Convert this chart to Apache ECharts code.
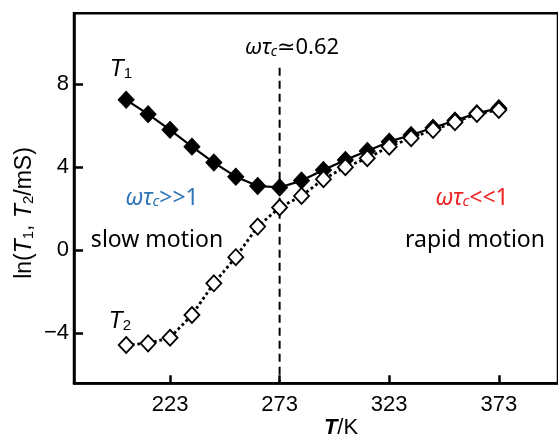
<!DOCTYPE html>
<html>
<head>
<meta charset="utf-8">
<script src="https://cdn.jsdelivr.net/npm/echarts@6/dist/echarts.min.js"></script>
<style>
html,body{margin:0;padding:0;background:#fff;}
#chart{width:558px;height:437px;}
</style>
</head>
<body>
<div id="chart"></div>
<script>
// Temperatures (K)
var temps = [203, 213, 223, 233, 243, 253, 263, 273, 283, 293, 303, 313, 323, 333, 343, 353, 363, 373];
// ln(T1/ms)
var t1Values = [7.25, 6.56, 5.80, 4.99, 4.22, 3.54, 3.09, 3.02, 3.35, 3.86, 4.35, 4.78, 5.23, 5.55, 5.90, 6.25, 6.60, 6.85];
// ln(T2/ms)
var t2Values = [-4.59, -4.51, -4.24, -3.14, -1.61, -0.35, 1.13, 2.05, 2.61, 3.42, 4.00, 4.43, 4.99, 5.40, 5.80, 6.17, 6.57, 6.76];
// tick labels
var xTicks = [223, 273, 323, 373];
var yTicks = [-4, 0, 4, 8];
// vertical marker at omega*tau_c ~ 0.62
var markerT = 273;
var markerRange = [8.8, -6.44];

function pairs(xs, ys) { return xs.map(function (x, i) { return [x, ys[i]]; }); }

var chart = echarts.init(document.getElementById('chart'), null, {renderer: 'canvas'});
var tickFont = 'Liberation Sans';
var textFont = 'Noto Sans, DejaVu Sans, sans-serif';

var option = {
  animation: false,
  backgroundColor: '#fff',
  grid: {
    left: 74, top: 13.3, right: -9.5, bottom: 53.7,
    show: true, borderColor: '#000', borderWidth: 2.5, backgroundColor: 'transparent'
  },
  xAxis: {
    type: 'value', min: 179.2, max: 400,
    axisLine: {show: true, onZero: false, lineStyle: {color: '#000', width: 2.5}},
    axisTick: {show: true, inside: true, length: 8, lineStyle: {color: '#000', width: 2.5}, customValues: xTicks},
    axisLabel: {show: true, customValues: xTicks, margin: 11, color: '#000', fontSize: 22, fontFamily: tickFont},
    splitLine: {show: false}
  },
  yAxis: {
    type: 'value', min: -6.44, max: 11.43,
    axisLine: {show: true, onZero: false, lineStyle: {color: '#000', width: 2.5}},
    axisTick: {show: true, inside: true, length: 9, lineStyle: {color: '#000', width: 2.5}, customValues: yTicks},
    axisLabel: {show: true, customValues: yTicks, margin: 5, color: '#000', fontSize: 22, fontFamily: tickFont,
      formatter: function (v) { return String(v).replace('-', '\u2212'); }},
    splitLine: {show: false}
  },
  series: [
    {
      type: 'line', name: 'marker', silent: true, z: 1,
      data: [[markerT, markerRange[0]], [markerT, markerRange[1]]],
      symbol: 'none',
      lineStyle: {color: '#000', width: 2, type: [8, 5]}
    },
    {
      type: 'line', name: 'T1', z: 2,
      data: pairs(temps, t1Values),
      symbol: 'diamond', symbolSize: [16, 17],
      itemStyle: {color: '#000', borderColor: '#000', borderWidth: 1},
      lineStyle: {color: '#000', width: 2.2}
    },
    {
      type: 'line', name: 'T2', z: 3,
      data: pairs(temps, t2Values),
      symbol: 'diamond', symbolSize: [15, 16],
      itemStyle: {color: '#fff', borderColor: '#000', borderWidth: 1.8},
      lineStyle: {color: '#000', width: 2.8, type: 'dotted'}
    }
  ],
  graphic: [
    {
      type: 'text', x: 25, y: 213, rotation: Math.PI / 2,
      style: {
        text: '{n|ln(}{i|T}{s|1}{n|, }{i|T}{s|2}{n|/mS)}',
        align: 'center', verticalAlign: 'middle', fill: '#000',
        rich: {
          n: {fontSize: 23, fontFamily: tickFont, fill: '#000'},
          i: {fontSize: 23, fontFamily: tickFont, fontStyle: 'italic', fill: '#000'},
          s: {fontSize: 15, fontFamily: tickFont, fill: '#000', verticalAlign: 'bottom'}
        }
      }
    },
    {
      type: 'text', x: 341, y: 428,
      style: {
        text: '{b|T}{n|/K}',
        align: 'center', verticalAlign: 'middle',
        rich: {
          b: {fontSize: 22, fontFamily: tickFont, fontStyle: 'italic', fontWeight: 'bold', fill: '#000'},
          n: {fontSize: 22, fontFamily: tickFont, fill: '#000'}
        }
      }
    },
    {
      type: 'text', x: 121, y: 70,
      style: {
        text: '{i|T}{s|1}',
        align: 'center', verticalAlign: 'middle',
        rich: {
          i: {fontSize: 23, fontFamily: tickFont, fontStyle: 'italic', fill: '#000'},
          s: {fontSize: 15, fontFamily: tickFont, fill: '#000', verticalAlign: 'bottom'}
        }
      }
    },
    {
      type: 'text', x: 120, y: 322,
      style: {
        text: '{i|T}{s|2}',
        align: 'center', verticalAlign: 'middle',
        rich: {
          i: {fontSize: 23, fontFamily: tickFont, fontStyle: 'italic', fill: '#000'},
          s: {fontSize: 15, fontFamily: tickFont, fill: '#000', verticalAlign: 'bottom'}
        }
      }
    },
    {
      type: 'text', x: 292, y: 48,
      style: {
        text: '{i|\u03c9\u03c4}{s|c}{n|\u22430.62}',
        align: 'center', verticalAlign: 'middle',
        rich: {
          i: {fontSize: 22, fontFamily: textFont, fontStyle: 'italic', fill: '#000'},
          s: {fontSize: 14, fontFamily: textFont, fontStyle: 'italic', fill: '#000', verticalAlign: 'bottom'},
          n: {fontSize: 22, fontFamily: textFont, fill: '#000'}
        }
      }
    },
    {
      type: 'text', x: 162, y: 198,
      style: {
        text: '{i|\u03c9\u03c4}{s|c}{n|>>1}',
        align: 'center', verticalAlign: 'middle',
        rich: {
          i: {fontSize: 23, fontFamily: textFont, fontStyle: 'italic', fill: '#2e75b6'},
          s: {fontSize: 15, fontFamily: textFont, fontStyle: 'italic', fill: '#2e75b6', verticalAlign: 'bottom'},
          n: {fontSize: 23, fontFamily: textFont, fill: '#2e75b6'}
        }
      }
    },
    {
      type: 'text', x: 157, y: 240,
      style: {text: 'slow motion', align: 'center', verticalAlign: 'middle', fontSize: 23, fontFamily: textFont, fill: '#000'}
    },
    {
      type: 'text', x: 472, y: 198,
      style: {
        text: '{i|\u03c9\u03c4}{s|c}{n|<<1}',
        align: 'center', verticalAlign: 'middle',
        rich: {
          i: {fontSize: 23, fontFamily: textFont, fontStyle: 'italic', fill: '#ee2222'},
          s: {fontSize: 15, fontFamily: textFont, fontStyle: 'italic', fill: '#ee2222', verticalAlign: 'bottom'},
          n: {fontSize: 23, fontFamily: textFont, fill: '#ee2222'}
        }
      }
    },
    {
      type: 'text', x: 475, y: 240,
      style: {text: 'rapid motion', align: 'center', verticalAlign: 'middle', fontSize: 23, fontFamily: textFont, fill: '#000'}
    }
  ]
};
chart.setOption(option);
</script>
</body>
</html>
